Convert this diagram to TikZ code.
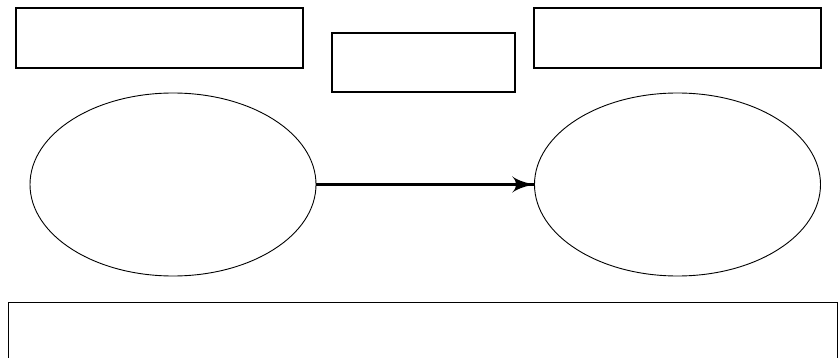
\documentclass[tikz,border=0pt]{standalone}
\usepackage{tikz}
\usetikzlibrary{arrows}
\usetikzlibrary{decorations.markings}
\usetikzlibrary{shapes.geometric}
\tikzset{->-/.style = {decoration={markings,
                                   mark=at position #1 with {\arrow[scale=2.2]{latex'}}},
                       postaction={decorate}}}
\tikzset{box/.style = {draw, line width = 1.2pt, inner sep = 0, rectangle}}
\tikzset{blob/.style = {draw, line width = 0.9pt, inner sep = 0, ellipse,
                        minimum width = 286, minimum height = 183}}

\begin{document}
\begin{tikzpicture}[x=1pt, y=-1pt]
      \useasboundingbox (0, 0) rectangle (840, 358);
      \node [box, minimum width = 287, minimum height = 60] (left box) at (159.5, 38) {};
      \node [box, minimum width = 183, minimum height = 59] (mid box) at (423.5, 62.5) {};
      \node [box, minimum width = 287, minimum height = 60] (right box) at (677.5, 38) {};

      \node [blob] (cause) at (173, 184.5) {};
      \node [blob] (effect) at (677.5, 184.5) {};
      \draw [line width = 2.4pt, ->-=1] (cause.east) -- (effect.west);

      \node [box, line width = 0.9pt, minimum width = 829, minimum height = 60] (bottom box) at (422.5, 332) {};
    \end{tikzpicture}
\end{document}
